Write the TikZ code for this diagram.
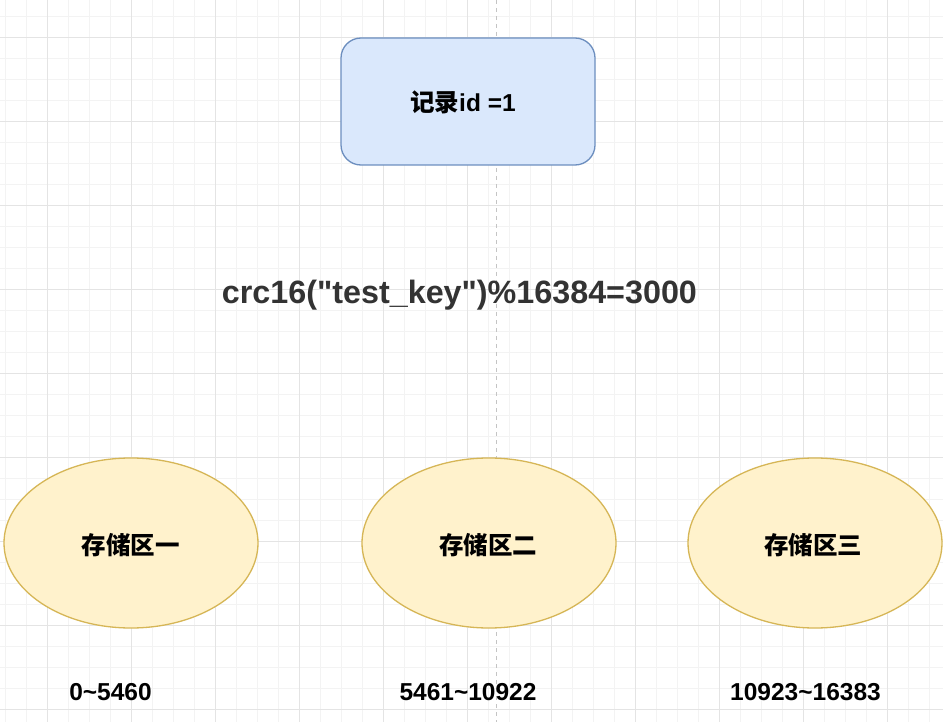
\documentclass[tikz,border=0pt]{standalone}
\usepackage{fontspec}
\setmainfont{Liberation Sans}
\newfontfamily\plainfont{Liberation Sans}
\newfontfamily\cjk{Noto Sans CJK SC}
\usetikzlibrary{shapes.geometric}
\definecolor{gridminor}{HTML}{F3F3F3}
\definecolor{gridmajor}{HTML}{E4E4E4}
\definecolor{boxfill}{HTML}{DAE8FC}
\definecolor{boxline}{HTML}{6C8EBF}
\definecolor{ellfill}{HTML}{FFF2CC}
\definecolor{ellline}{HTML}{D6B656}
\definecolor{txtgray}{HTML}{333333}
\definecolor{dashgray}{HTML}{C4C4C4}
\tikzset{
  lbl/.style={font=\bfseries\fontsize{24.5}{28}\selectfont, text=black, inner sep=0pt},
  zone/.style={ellipse, draw=ellline, fill=ellfill, line width=1.3pt, minimum width=254pt, minimum height=170pt, inner sep=0pt},
  recbox/.style={draw=boxline, fill=boxfill, line width=1.3pt, rounded corners=20pt, minimum width=254pt, minimum height=127pt, inner sep=0pt}
}
\begin{document}
\begin{tikzpicture}[x=1pt,y=-1pt]
\useasboundingbox (0,0) rectangle (943,722);
\fill[white] (0,0) rectangle (943,722);
% grid
\foreach \k in {0,...,44} {
  \pgfmathsetmacro\xx{5+21*\k}
  \draw[gridminor, line width=0.8pt] (\xx,0) -- (\xx,722);
}
\foreach \k in {0,...,34} {
  \pgfmathsetmacro\yy{16+21*\k}
  \draw[gridminor, line width=0.8pt] (0,\yy) -- (943,\yy);
}
\foreach \k in {0,...,11} {
  \pgfmathsetmacro\xx{47+84*\k}
  \draw[gridmajor, line width=0.9pt] (\xx,0) -- (\xx,722);
}
\foreach \k in {0,...,8} {
  \pgfmathsetmacro\yy{37+84*\k}
  \draw[gridmajor, line width=0.9pt] (0,\yy) -- (943,\yy);
}
% dashed centre line
\coordinate (dtop) at (496,0);
\coordinate (dbot) at (496,722);
\draw[dashgray, line width=1pt, dash pattern=on 4pt off 4pt] (dtop) -- (dbot);
% record box
\node[recbox] (rec) at (468,101.5) {};
\node[lbl, anchor=center] (rectxt) at (463,102) {{\cjk 记录}id =1};
% formula
\node[font=\plainfont\bfseries\fontsize{32.3}{36}\selectfont, text=txtgray, inner sep=0pt, anchor=base] (crc) at (459.5,303) {crc16("test\_key")\%16384=3000};
% zones
\node[zone] (z1) at (131,543) {};
\node[zone] (z2) at (489,543) {};
\node[zone] (z3) at (815,543) {};
\node[lbl] (z1t) at (130.5,545) {\cjk 存储区一};
\node[lbl] (z2t) at (488,545) {\cjk 存储区二};
\node[lbl] (z3t) at (813,545) {\cjk 存储区三};
% ranges
\node[lbl, anchor=base] (r1) at (110.5,700) {0\textasciitilde 5460};
\node[lbl, anchor=base] (r2) at (468,700) {5461\textasciitilde 10922};
\node[lbl, anchor=base] (r3) at (805.5,700) {10923\textasciitilde 16383};
\end{tikzpicture}
\end{document}
